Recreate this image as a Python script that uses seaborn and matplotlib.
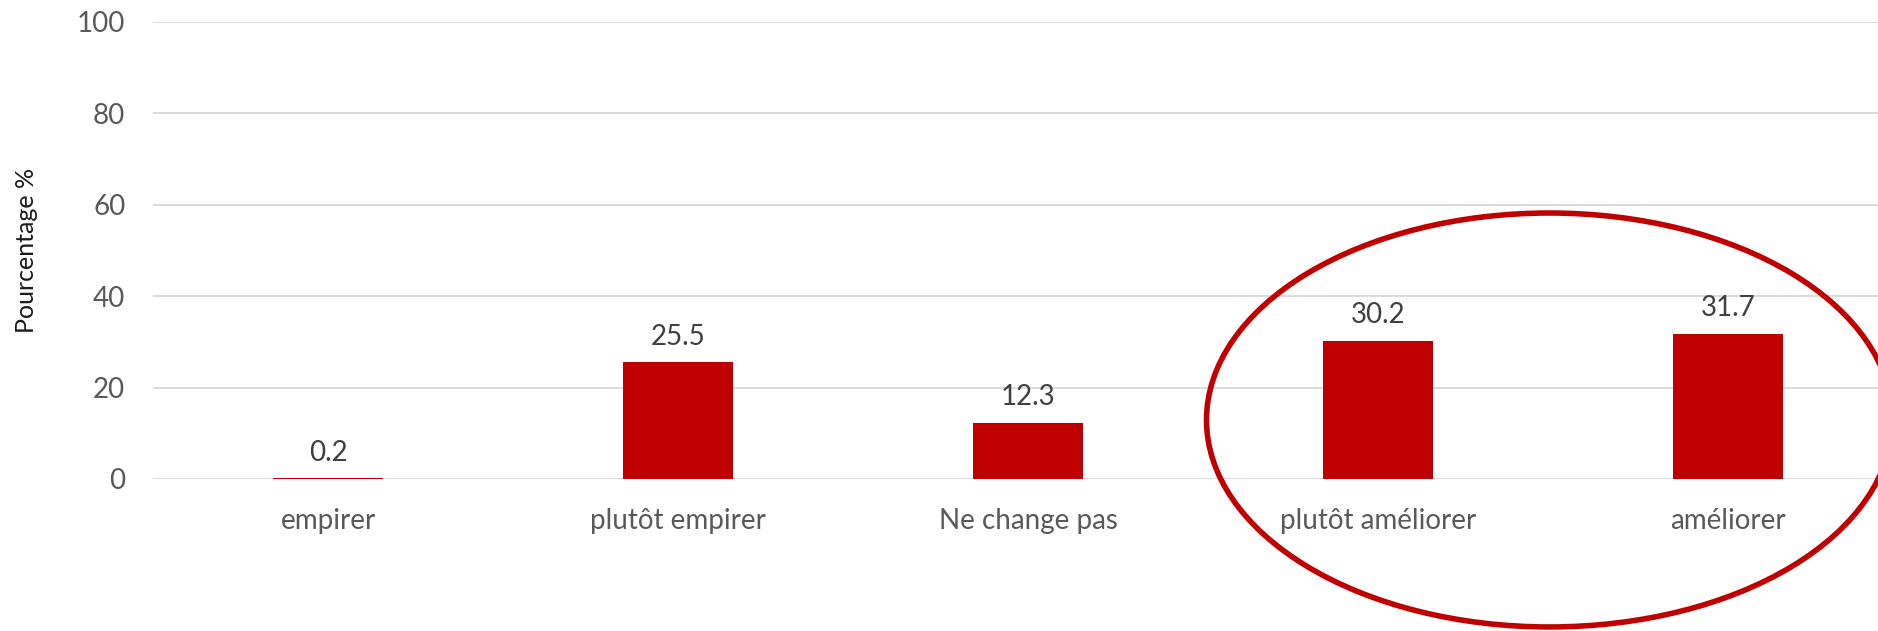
import matplotlib
matplotlib.use("Agg")
import matplotlib.pyplot as plt
import seaborn as sns
from matplotlib.patches import Ellipse

# Data
categories = ["empirer", "plutôt empirer", "Ne change pas", "plutôt améliorer", "améliorer"]
values = [0.2, 25.5, 12.3, 30.2, 31.7]
y_ticks = [0, 20, 40, 60, 80, 100]

BAR_RED = "#C00000"

sns.set_theme(style="white")
plt.rcParams["font.family"] = ["Lato", "DejaVu Sans"]

fig = plt.figure(figsize=(18.78, 6.31), dpi=100)
# axes runs slightly past the right edge like the cropped original
ax = fig.add_axes([0.0815, 0.2409, 0.9318, 0.7249])

sns.barplot(x=categories, y=values, color=BAR_RED, saturation=1,
            width=0.314, edgecolor="none", linewidth=0, ax=ax)

ax.set_ylim(0, 100)
ax.set_yticks(y_ticks)
ax.yaxis.grid(True, color="#d9d9d9", linewidth=1.3)
ax.set_axisbelow(True)
for s in ax.spines.values():
    s.set_visible(False)

ax.tick_params(axis="y", length=0, pad=20, labelsize=20, labelcolor="#595959")
ax.tick_params(axis="x", length=0, pad=21, labelsize=20, labelcolor="#595959")
ax.set_xlabel("")
ax.set_ylabel("Pourcentage %", fontsize=18, color="#1a1a1a", labelpad=28)

ax.bar_label(ax.containers[0], fmt="%.1f", padding=9, fontsize=20, color="#404040")

# highlight ellipse around the two "improve" bars
ell = Ellipse((3.49, 12.9), width=1.96, height=90.5, fill=False,
              edgecolor=BAR_RED, linewidth=4, clip_on=False)
ax.add_patch(ell)

fig.savefig("out.png", dpi=100)
